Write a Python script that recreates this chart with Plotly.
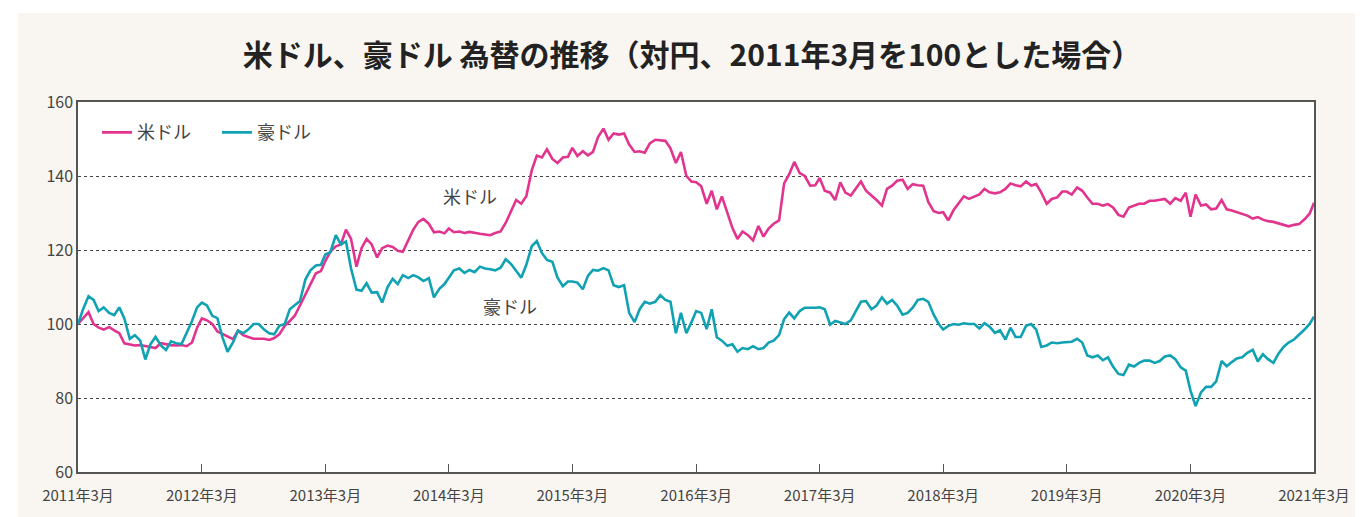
import plotly.graph_objects as go
import pandas as pd

# semi-monthly observations, 2011-03 .. 2021-03 (index, 2011年3月 = 100)
usd = [
    # 2011-03 .. 2012-02
    100, 101.5, 103.2, 100, 99, 98.5, 99.2, 98.3, 97.5, 94.8, 94.5, 94.2,
    94.3, 94, 93.8, 93.5, 94.8, 94.5, 94.3, 94.2, 94.3, 94, 95, 99,
    # 2012-03 .. 2013-02
    101.5, 101, 100, 98, 97.3, 96.8, 95.9, 98.2, 97, 96.5, 96, 96,
    96, 95.7, 96.2, 97.2, 99.5, 100.8, 102.3, 105, 108, 111, 113.7, 114.3,
    # 2013-03 .. 2014-02
    117, 119.6, 121, 121.5, 125.5, 123, 115.5, 120.5, 123, 121.5, 118, 120.5,
    121.2, 120.8, 119.8, 119.5, 122.8, 125.5, 127.6, 128.4, 127.1, 124.8, 125, 124.5,
    # 2014-03 .. 2015-02
    125.8, 124.8, 125, 124.6, 124.9, 124.6, 124.4, 124.2, 124, 124.6, 125, 127.3,
    130.5, 133.5, 132.5, 134.5, 141.5, 145.5, 145, 147.2, 144.6, 143.5, 145, 145.2,
    # 2015-03 .. 2016-02
    147.6, 145.4, 146.7, 145.6, 146.5, 150.5, 152.8, 149.8, 151.5, 151.2, 151.5, 148.5,
    146.5, 146.7, 146.3, 148.8, 149.8, 149.7, 149.5, 147.5, 143.5, 146.5, 140, 138.5,
    # 2016-03 .. 2017-02
    138.3, 137.2, 132.5, 136, 131, 134.5, 130, 126, 123, 125, 124, 122.6,
    126.5, 123.6, 125.8, 127.1, 128, 138, 140.5, 143.8, 140.8, 140, 137.4, 137.5,
    # 2017-03 .. 2018-02
    139.5, 136, 135.5, 133.5, 138.3, 135.5, 134.7, 136.5, 138.5, 136, 134.8, 133.5,
    132, 136.5, 137.4, 138.7, 139, 136.5, 137.8, 137.5, 137.4, 133, 130.5, 130,
    # 2018-03 .. 2019-02
    130.2, 128, 130.8, 132.5, 134.5, 133.8, 134.5, 135, 136.5, 135.6, 135.3, 135.6,
    136.5, 138, 137.5, 137.2, 138.5, 137.4, 137.8, 135.5, 132.5, 133.8, 134.2, 135.8,
    # 2019-03 .. 2020-02
    135.8, 135, 136.9, 136, 134.2, 132.5, 132.5, 132, 132.4, 131.5, 129.5, 129,
    131.5, 132, 132.5, 132.5, 133.3, 133.3, 133.5, 133.8, 132.5, 134, 133.3, 135.5,
    # 2020-03 .. 2021-03
    129, 135, 132, 132.3, 131, 131.2, 133.5, 131, 130.7, 130.2, 129.6, 129.3,
    128.5, 128.9, 128.2, 127.8, 127.6, 127.2, 126.8, 126.4, 126.8, 127, 128.3, 129.8,
    132.8,
]

aud = [
    # 2011-03 .. 2012-02
    100, 104, 107.5, 106.5, 103.5, 104.5, 103, 102.4, 104.5, 101.5, 96, 97,
    95.5, 90.4, 94.5, 96.5, 94.2, 93, 95.3, 94.8, 94.6, 97.5, 100.8, 104.5,
    # 2012-03 .. 2013-02
    105.8, 105, 102.2, 101.6, 96.4, 92.5, 95, 98.2, 97.5, 98.5, 100, 100,
    98.5, 97.5, 97.2, 99.5, 100, 104, 105, 106.2, 112, 114.5, 115.8, 116,
    # 2013-03 .. 2014-02
    118.8, 119.4, 124, 121.5, 122.3, 115, 109.3, 109, 111, 108.5, 108.6, 105.8,
    110, 112.2, 110.8, 113.2, 112.4, 113.2, 112.6, 111.6, 112.4, 107.2, 109.5, 110.8,
    # 2014-03 .. 2015-02
    112.5, 114.5, 115, 113.8, 114.6, 114, 115.5, 115, 114.8, 114.5, 115.2, 117.5,
    116.2, 114.5, 112.5, 116, 121, 122.4, 119.2, 117.3, 116.8, 112.6, 110.2, 111.5,
    # 2015-03 .. 2016-02
    111.5, 111.2, 109.4, 113, 114.6, 114.4, 115.1, 114.5, 110.5, 110, 110.5, 103,
    100.5, 104, 106, 105.5, 106, 107.8, 106.5, 106, 97.5, 103, 97.5, 100.5,
    # 2016-03 .. 2017-02
    103.5, 103, 98.6, 104, 96.4, 95.5, 94.1, 94.5, 92.5, 93.5, 93.2, 94,
    93.2, 93.5, 95, 95.5, 97, 101.3, 103.1, 101.5, 103.5, 104.4, 104.3, 104.4,
    # 2017-03 .. 2018-02
    104.5, 104, 99.8, 100.8, 100.4, 100, 101, 103.5, 106, 106.2, 104, 105,
    107.2, 105.5, 106.5, 105, 102.5, 103, 104.4, 106.5, 106.8, 106, 102.5, 100,
    # 2018-03 .. 2019-02
    98.5, 99.5, 100, 99.8, 100.2, 100, 100, 98.8, 100.2, 99.3, 97.6, 98.3,
    95.8, 99, 96.5, 96.5, 99.5, 100, 98.5, 93.8, 94.2, 95, 94.8, 95,
    # 2019-03 .. 2020-02
    95, 95.2, 96, 95, 91.5, 91, 91.5, 90.2, 91, 88.5, 86.5, 86.2,
    89, 88.5, 89.5, 90.1, 90.1, 89.5, 90, 91.2, 91.5, 90.5, 88.3, 87.4,
    # 2020-03 .. 2021-03
    82, 77.8, 81.5, 83, 83, 84.5, 90, 88.6, 89.7, 90.7, 91, 92.2,
    93, 89.9, 91.8, 90.5, 89.5, 92, 93.8, 95, 95.8, 97, 98.5, 100,
    102,
]

start = pd.Timestamp("2011-03-01")
dates = [start + pd.DateOffset(months=i // 2) + pd.Timedelta(days=15 * (i % 2))
         for i in range(len(usd))]

tick_years = list(range(2011, 2022))
tick_vals = [f"{y}-03-01" for y in tick_years]
tick_text = [f"{y}年3月" for y in tick_years]
y_ticks = [60, 80, 100, 120, 140, 160]

title = "米ドル、豪ドル 為替の推移（対円、2011年3月を100とした場合）"
usd_name = "米ドル"
aud_name = "豪ドル"

C_USD = "#e2338f"
C_AUD = "#10a2b3"
FONT = "Noto Sans CJK JP"

fig = go.Figure()
fig.add_trace(go.Scatter(x=dates, y=usd, mode="lines", name=usd_name,
                         line=dict(color=C_USD, width=2.6)))
fig.add_trace(go.Scatter(x=dates, y=aud, mode="lines", name=aud_name,
                         line=dict(color=C_AUD, width=2.6)))

# page has an 8px body margin; all positions below are in page pixels
OFF = 8
W, H = 1363 - OFF, 517 - OFF
L, R, T, B = 78, 1314, 102, 476
pw, ph = R - L, B - T


def px(x):
    return (x - L) / pw


def py(y):
    return (B - y) / ph


fig.update_layout(
    width=W, height=H,
    margin=dict(l=L - OFF, r=W - (R - OFF), t=T - OFF, b=H - (B - OFF)),
    paper_bgcolor="white",
    plot_bgcolor="rgba(0,0,0,0)",
    font=dict(family=FONT, color="#444"),
    showlegend=True,
    legend=dict(orientation="h", x=px(97), y=py(133), xanchor="left", yanchor="middle",
                font=dict(size=18, color="#444", family=FONT),
                bgcolor="rgba(0,0,0,0)", itemwidth=30, tracegroupgap=0,
                entrywidth=75),
    title=dict(text=f"<b>{title}</b>", x=(692 - OFF) / W, xref="container",
               xanchor="center", y=1 - (55 - OFF) / H, yref="container",
               yanchor="middle",
               font=dict(size=30, color="#222", family=FONT)),
    shapes=[
        dict(type="rect", xref="paper", yref="paper", layer="below",
             x0=px(18), x1=px(1380), y0=py(530), y1=py(12),
             fillcolor="#f9f6f1", line=dict(width=0)),
        dict(type="rect", xref="paper", yref="paper", layer="below",
             x0=0, x1=1, y0=0, y1=1, fillcolor="white", line=dict(width=0)),
    ],
    annotations=[
        dict(text=usd_name, x=px(470), y=py(197), xref="paper", yref="paper",
             xanchor="center", yanchor="middle",
             showarrow=False, font=dict(size=18, color="#444", family=FONT)),
        dict(text=aud_name, x=px(510), y=py(308), xref="paper", yref="paper",
             xanchor="center", yanchor="middle",
             showarrow=False, font=dict(size=18, color="#444", family=FONT)),
    ],
)

fig.update_xaxes(
    type="date", range=["2011-03-01", "2021-03-01"],
    tickvals=tick_vals, ticktext=tick_text,
    ticks="inside", ticklen=8, tickcolor="#555", tickwidth=1,
    ticklabelstandoff=9,
    showgrid=False, zeroline=False,
    showline=True, linecolor="#555", linewidth=1.5, mirror=True,
    tickfont=dict(size=15, color="#444", family=FONT),
)
fig.update_yaxes(
    range=[60, 160], tickvals=y_ticks,
    showgrid=True, gridcolor="#444", gridwidth=1, griddash="3px,3px",
    zeroline=False, ticks="",
    showline=True, linecolor="#555", linewidth=1.5, mirror=True,
    tickfont=dict(size=16, color="#444", family=FONT),
)

fig.write_html("out.html")
